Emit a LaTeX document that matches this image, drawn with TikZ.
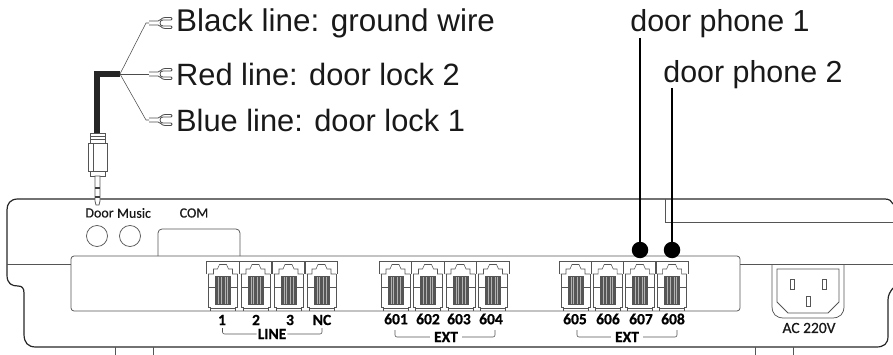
\documentclass[tikz,border=0pt]{standalone}
\usepackage{fontspec}
\setmainfont{Liberation Sans}
\newfontfamily\panelfont{Carlito}
\newfontfamily\panelfontmed[FakeBold=0.6]{Carlito}
\newfontfamily\panelfontbold[FakeBold=0.8]{Carlito Bold}
\usetikzlibrary{positioning,calc}
\definecolor{paneline}{HTML}{555555}
\definecolor{contact}{HTML}{555555}
\tikzset{
  calllabel/.style={font=\fontsize{30.8}{33}\selectfont,anchor=west,inner sep=0pt,text=black!90},
  phonelabel/.style={font=\fontsize{30.4}{32}\selectfont,inner sep=0pt,text=black!90,anchor=base},
  portnum/.style={font=\panelfontbold\fontsize{15.5}{16}\selectfont,inner sep=0pt,text=black},
  grouplabel/.style={font=\panelfontbold\fontsize{15.5}{16}\selectfont,inner sep=1pt,text=black},
  paneltext/.style={font=\panelfontmed\fontsize{14}{15}\selectfont,inner sep=0pt,text=black!90},
  outerline/.style={draw=black!85,line width=1.2pt,line join=round},
  panelline/.style={draw=paneline,line width=0.75pt},
  thinline/.style={draw=paneline,line width=0.55pt},
  bracket/.style={draw=paneline,line width=0.6pt,rounded corners=2pt},
  wire/.style={draw=black!70,line width=0.55pt},
  cable/.style={draw=black!85,line width=6pt},
  feedline/.style={draw=black,line width=1.1pt},
  phonedot/.style={circle,fill=black,minimum size=16.5pt,inner sep=0pt},
  roundhole/.style={circle,panelline,minimum size=21pt,inner sep=0pt},
  pinhole/.style={rectangle,panelline,minimum width=3.8pt,minimum height=10pt,inner sep=0pt},
  rjport/.pic={
    % outer frame and stepped latch opening
    \draw[thinline] (0,13) -- (0,0) -- (32.5,0) -- (32.5,13);
    \draw[thinline] (1.5,13) -- (7,13) -- (7,8) -- (11,8) -- (13,3.5) -- (20,3.5) -- (22,8) -- (26,8) -- (26,13) -- (31,13);
    \draw[thinline] (2,13) -- (2,46) -- (4,46) -- (4,50);
    \draw[thinline] (31,13) -- (31,46) -- (29,46) -- (29,50);
    \draw[thinline] (2,26) -- (9,26) (24,26) -- (31,26);
    \draw[thinline] (9,15) -- (24,15) (9,15) -- (9,43) -- (24,43) -- (24,15);
    % contact block
    \fill[contact] (9.5,16) rectangle (23.5,43);
    \draw[white!70!black,line width=0.3pt] (12,16) -- (12,43) (14.5,16) -- (14.5,43) (18.5,16) -- (18.5,43) (21,16) -- (21,43);
    \draw[thinline] (4,47) -- (29,47);
  },
  forkterm/.pic={
    \draw[wire,line width=0.8pt,rounded corners=1pt] (0,-2) -- (8,-2) .. controls (12,-2) and (12,-5.5) .. (17,-5.5) -- (23,-5.5) -- (23,-3)
      -- (15,-3) .. controls (10,-3) and (10,3) .. (15,3) -- (23,3) -- (23,5.5) -- (17,5.5) .. controls (12,5.5) and (12,2) .. (8,2) -- (0,2);
  }
}
\begin{document}
\begin{tikzpicture}[x=1pt,y=-1pt]
  \useasboundingbox (0,0) rectangle (893,355);
  % callout texts
  \node[calllabel,font=\fontsize{31.4}{33}\selectfont] (blacktxt) at (176,23) {Black line: ground wire};
  \node[calllabel] (redtxt) at (176,74) {Red line: door lock 2};
  \node[calllabel] (bluetxt) at (176,120) {Blue line: door lock 1};
  \node[phonelabel] (phoneone) at (720,32) {door phone 1};
  \node[phonelabel] (phonetwo) at (753,83) {door phone 2};
  % cable with its three wires
  \coordinate (hub) at (120,74);
  \coordinate (jacktop) at (97,133);
  \coordinate (blackfork) at (149,23);
  \coordinate (redfork) at (149,74);
  \coordinate (bluefork) at (149,120);
  \draw[cable] (jacktop) |- (hub);
  \draw[wire] (hub) -- (146,23) -- (blackfork);
  \draw[wire] (hub) -- (redfork);
  \draw[wire] (hub) -- (146,120) -- (bluefork);
  \pic at (blackfork) {forkterm};
  \pic at (redfork) {forkterm};
  \pic at (bluefork) {forkterm};
  % housing
  \draw[outerline] (893,204) .. controls (892,201) and (889,199) .. (885,199) -- (18,199)
    .. controls (10,199) and (7,204) .. (7,210) -- (7,275) .. controls (7,284) and (12,286) .. (18,286)
    .. controls (22,286) and (24,288) .. (24,293) -- (24,334) .. controls (24,343) and (28,347) .. (36,347)
    -- (876,347) .. controls (884,347) and (888,344) .. (888,336) -- (888,300) .. controls (888,295) and (890,292) .. (893,288);
  \draw[panelline] (7,264) -- (71,264);
  \draw[panelline] (740,264) -- (893,264);
  \draw[panelline] (665,199) -- (665,222) -- (893,222);
  \draw[panelline] (115,347) -- (115,355) (153,347) -- (153,355);
  \draw[panelline] (755,347) -- (755,355) (793,347) -- (793,355);
  \draw[panelline,rounded corners=3pt] (71,256) rectangle (740,311);
  \draw[panelline,rounded corners=4pt] (158,256) -- (158,229) -- (240,229) -- (240,256);
  % jack plug
  \draw[thinline,fill=white] (90,133) rectangle (105,143);
  \draw[thinline] (90,136) -- (105,136) (90,139) -- (105,139);
  \draw[panelline,fill=white] (88,143) rectangle (107,171);
  \draw[thinline] (93,143) -- (93,171);
  \draw[panelline,fill=white] (90,171) rectangle (105,176);
  \draw[panelline,fill=white] (95,176) -- (95,201) -- (96,205) -- (99,205) -- (100,201) -- (100,176) -- cycle;
  \fill[black!75] (95,187) rectangle (100,189.5);
  \fill[black!75] (95,196) rectangle (100,198);
  % door and music jacks, serial port
  \node[paneltext] (doortxt) at (99.5,213) {Door};
  \node[paneltext] (musictxt) at (134,213) {Music};
  \node[paneltext] (comtxt) at (194,213) {COM};
  \node[roundhole] (doorhole) at (97,236) {};
  \node[roundhole] (musichole) at (130,236) {};
  % LINE ports
  \pic at (206.5,261) {rjport};
  \pic at (239,261) {rjport};
  \pic at (272,261) {rjport};
  \pic at (305,261) {rjport};
  \node[portnum] (line1) at (222,320) {1};
  \node[portnum] (line2) at (256,320) {2};
  \node[portnum] (line3) at (290,320) {3};
  \node[portnum] (lineNC) at (322,320) {NC};
  \node[grouplabel] (linetxt) at (272,334) {LINE};
  \draw[bracket] (222.5,328) |- (linetxt.west);
  \draw[bracket] (322,328) |- (linetxt.east);
  % first EXT ports
  \pic at (379,261) {rjport};
  \pic at (411.5,261) {rjport};
  \pic at (444,261) {rjport};
  \pic at (476.5,261) {rjport};
  \node[portnum] (ext601) at (396,319) {601};
  \node[portnum] (ext602) at (428,319) {602};
  \node[portnum] (ext603) at (459,319) {603};
  \node[portnum] (ext604) at (491,319) {604};
  \node[grouplabel,inner xsep=4pt] (exttxtA) at (446,337) {EXT};
  \draw[bracket] (395,330) |- (exttxtA.west);
  \draw[bracket] (495,330) |- (exttxtA.east);
  % second EXT ports
  \pic at (559,261) {rjport};
  \pic at (591.2,261) {rjport};
  \pic at (623.4,261) {rjport};
  \pic at (655.6,261) {rjport};
  \node[portnum] (ext605) at (575,319) {605};
  \node[portnum] (ext606) at (608,319) {606};
  \node[portnum] (ext607) at (641,319) {607};
  \node[portnum] (ext608) at (673,319) {608};
  \node[grouplabel,inner xsep=4pt] (exttxtB) at (627,337) {EXT};
  \draw[bracket] (577,330) |- (exttxtB.west);
  \draw[bracket] (677,330) |- (exttxtB.east);
  % door phone feeds
  \node[phonedot] (dotone) at (640,250) {};
  \node[phonedot] (dottwo) at (672,250) {};
  \coordinate (feedone) at (640,38);
  \coordinate (feedtwo) at (672,88);
  \draw[feedline] (feedone) -- (dotone);
  \draw[feedline] (feedtwo) -- (dottwo);
  % mains inlet
  \draw[panelline] (772,264) -- (772,306) .. controls (772,314) and (776,318) .. (784,318) -- (832,318) .. controls (840,318) and (844,314) .. (844,306) -- (844,264);
  \draw[panelline] (777,269) -- (839,269) -- (839,302) -- (828,313) -- (788,313) -- (777,302) -- cycle;
  \node[pinhole] (pinleft) at (792,284) {};
  \node[pinhole] (pinright) at (824,284) {};
  \node[pinhole] (pinearth) at (808,301) {};
  \node[paneltext,font=\panelfontmed\fontsize{15.5}{16}\selectfont] (actxt) at (809,328) {AC 220V};
\end{tikzpicture}
\end{document}
